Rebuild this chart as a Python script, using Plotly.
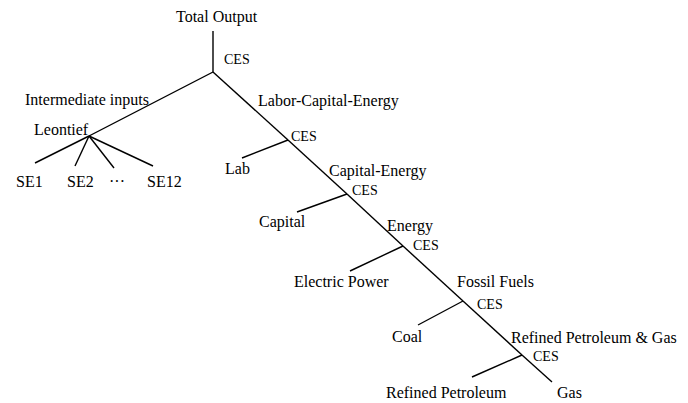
import plotly.graph_objects as go

# Node coordinates of the nesting tree (diagram units, y grows downward)
node_names = ["top", "root", "leontief", "se1", "se2", "dots", "se12",
              "lce", "lab", "ce", "capital", "energy", "electric",
              "fossil", "coal", "rpg", "refined", "gas"]
node_x = [213, 213, 89, 35, 75, 114, 153, 288, 242, 347, 297, 403, 350, 463, 418, 522, 472, 552]
node_y = [31, 72, 136, 163, 166, 168, 166, 140, 158, 194, 212, 246, 271, 301, 325, 355, 377, 382]

# Edges (parent, child)
edges = [("top", "root"), ("root", "leontief"), ("leontief", "se1"),
         ("leontief", "se2"), ("leontief", "dots"), ("leontief", "se12"),
         ("root", "lce"), ("lce", "lab"), ("lce", "ce"), ("ce", "capital"),
         ("ce", "energy"), ("energy", "electric"), ("energy", "fossil"),
         ("fossil", "coal"), ("fossil", "rpg"), ("rpg", "refined"), ("rpg", "gas")]

# Text labels
label_text = ["Total Output", "CES", "Intermediate inputs", "Labor-Capital-Energy",
              "Leontief", "CES", "Lab", "Capital-Energy", "CES", "Capital",
              "Energy", "CES", "Electric Power", "Fossil Fuels", "CES", "Coal",
              "Refined Petroleum & Gas", "CES", "Refined Petroleum", "Gas",
              "SE1", "SE2", "···", "SE12"]
label_x = [217, 223, 150, 257, 33, 290, 224, 328, 351, 258, 386, 412, 293, 456,
           476, 391, 510, 532, 385, 556, 15, 66, 108, 146]
label_y = [17, 59, 100, 101, 129, 136, 168, 171, 190, 222, 226, 245, 281, 281,
           304, 336, 337, 356, 392, 392, 181, 181, 181, 181]
label_anchor = ["center", "left", "right", "left", "left", "left", "left", "left",
                "left", "left", "left", "left", "left", "left", "left", "left",
                "left", "left", "left", "left", "left", "left", "left", "left"]

idx = {n: i for i, n in enumerate(node_names)}
xs, ys = [], []
for a, b in edges:
    xs += [node_x[idx[a]], node_x[idx[b]], None]
    ys += [node_y[idx[a]], node_y[idx[b]], None]

fig = go.Figure()
fig.add_trace(go.Scatter(x=xs, y=ys, mode="lines",
                         line=dict(color="black", width=1.4),
                         hoverinfo="skip", showlegend=False))

for t, x, y, a in zip(label_text, label_x, label_y, label_anchor):
    size = 14 if t == "CES" else 16
    fig.add_annotation(x=x, y=y, text=t, showarrow=False, xanchor=a,
                       yanchor="middle", borderpad=0,
                       font=dict(family="Liberation Serif", size=size, color="black"))

fig.update_layout(
    width=688, height=403,
    margin=dict(l=0, r=0, t=0, b=0),
    paper_bgcolor="white", plot_bgcolor="white",
    xaxis=dict(range=[0, 688], visible=False, fixedrange=True),
    yaxis=dict(range=[403, 0], visible=False, fixedrange=True),
)
fig.write_html("out.html", config={"displayModeBar": False},
               post_script="document.body.style.margin='0px';")
